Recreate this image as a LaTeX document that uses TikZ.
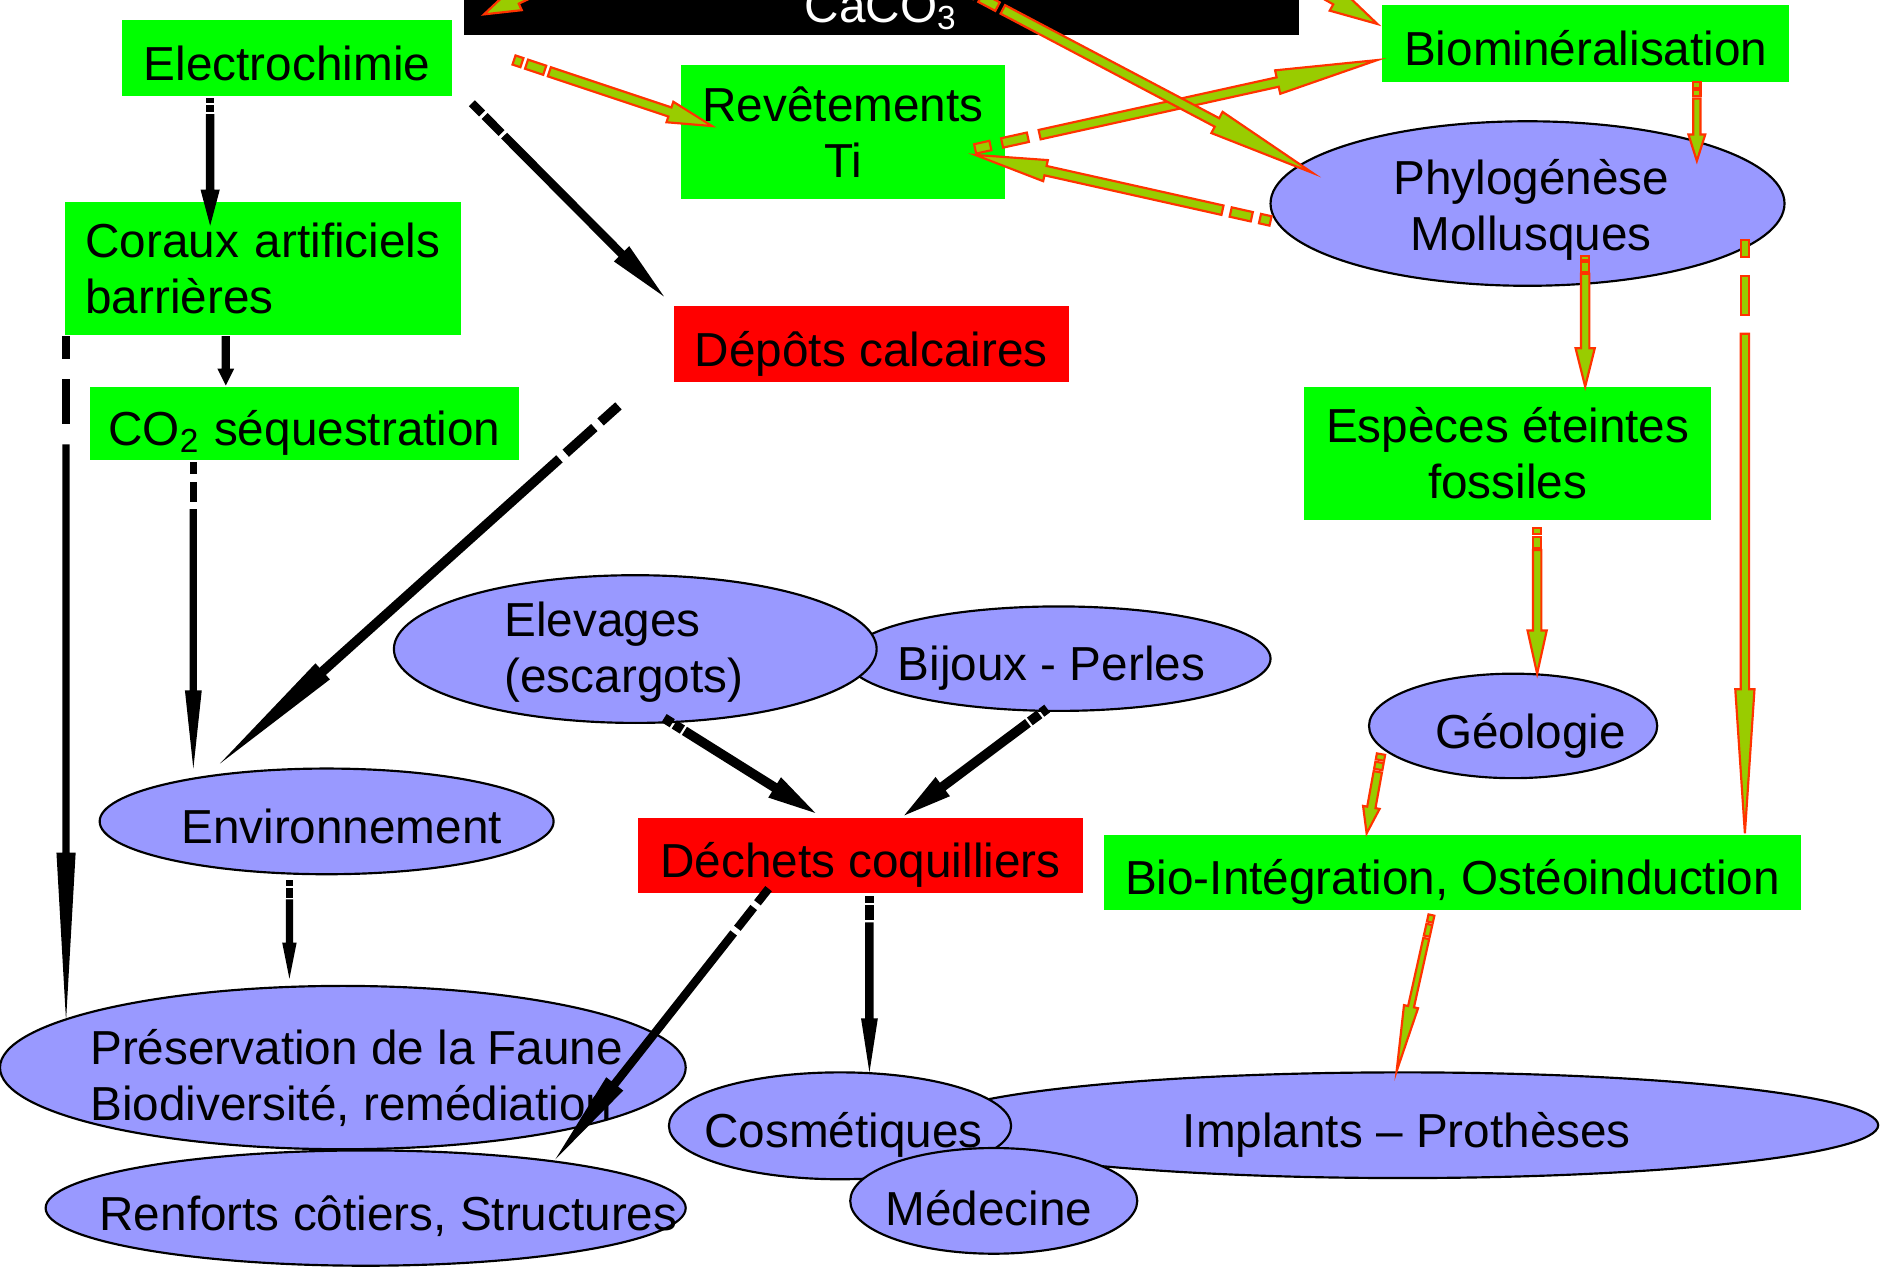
\documentclass[tikz,border=0pt]{standalone}
\usepackage{fontspec}
\setmainfont{Liberation Sans}
\usetikzlibrary{shapes.geometric,calc}
\definecolor{boxgreen}{HTML}{00FF00}
\definecolor{boxred}{HTML}{FF0000}
\definecolor{ellblue}{HTML}{9999FF}
\definecolor{arrfill}{HTML}{99CC00}
\definecolor{arrline}{HTML}{FF3300}
% #1 style, #2 start, #3 end, #4 half shaft width, #5 head length, #6 head half width,
% #7 first dash, #8 gap, #9 second dash (all in picture units)
\newcommand\fatarrow[9]{%
  \path let \p1=#2, \p2=#3 in \pgfextra{%
    \pgfmathsetmacro\faAtmp{atan2((\y2)-(\y1),(\x2)-(\x1))}%
    \pgfmathsetmacro\faLtmp{veclen((\x2)-(\x1),(\y2)-(\y1))*4}%
    \xdef\faA{\faAtmp}\xdef\faL{\faLtmp}\xdef\faX{\x1}\xdef\faY{\y1}};
  \begin{scope}[shift={(\faX,\faY)},rotate=\faA,x=0.25pt,y=0.25pt]
    \ifdim #7pt>0pt
      \draw[#1] (0,-#4) -- (#7,-#4) -- (#7,#4) -- (0,#4) -- cycle;
      \draw[#1] (#7+#8,-#4) -- (#7+#8+#9,-#4) -- (#7+#8+#9,#4) -- (#7+#8,#4) -- cycle;
      \pgfmathsetmacro\faS{#7+#8+#9+#8}%
    \else
      \def\faS{0}%
    \fi
    \draw[#1] (\faS,#4) -- (\faL-#5,#4) -- (\faL-#5,#6) -- (\faL,0)
      -- (\faL-#5,-#6) -- (\faL-#5,-#4) -- (\faS,-#4) -- cycle;
  \end{scope}}
\begin{document}
\begin{tikzpicture}[x=0.25pt,y=-0.25pt,
  every node/.style={font=\fontsize{9.93pt}{11.7pt}\selectfont, inner sep=0pt},
  sz/.style 2 args={minimum width=#1*0.25pt, minimum height=#2*0.25pt},
  tl/.style={text height=9.2pt, text depth=0pt},
  gbox/.style={rectangle, fill=boxgreen, align=center},
  rbox/.style={rectangle, fill=boxred, align=center},
  ell/.style={ellipse, draw=black, line width=0.45pt, fill=ellblue},
  lbl/.style={align=center},
  garr/.style={fill=arrfill, draw=arrline, line width=0.45pt},
  barr/.style={fill=black, draw=none}]
\useasboundingbox (0,0) rectangle (1568,1056);
\fill[white] (0,0) rectangle (1568,1056);

% ---- nodes
\node[fill=black, text=white, tl, sz={696}{58}] (caco) at (734,0) {CaCO\textsubscript{3}};
\node[gbox, tl, sz={274}{63}] (elec) at (239,48.5) {Electrochimie};
\node[gbox, sz={270}{112}] (rev) at (702,110) {Revêtements\\Ti};
\node[gbox, tl, sz={339}{64}] (bio) at (1320.5,36) {Biominéralisation};
\node[ell, sz={428}{137}, label={[lbl,xshift=3*0.25pt,yshift=-5*0.25pt]center:{Phylogénèse\\Mollusques}}] (phylo) at (1272,169.5) {};
\node[gbox, sz={330}{111}, text width=74pt, align=left] (coraux) at (219,223.5) {Coraux artificiels\\barrières};
\node[rbox, tl, sz={329}{63}] (depots) at (725.5,286.5) {Dépôts calcaires};
\node[gbox, tl, sz={357}{61}] (co2) at (253.5,352.5) {CO\textsubscript{2} séquestration};
\node[gbox, sz={339}{111}] (esp) at (1255.5,377.5) {Espèces éteintes\\fossiles};
\node[ell, sz={353}{87}, label={[lbl,tl,xshift=-6*0.25pt]center:{Bijoux - Perles}}] (bij) at (881.5,548.5) {};
\node[ell, sz={402}{123}, label={[lbl,align=left,xshift=-9.5*0.25pt,yshift=-2.5*0.25pt]center:{Elevages\\(escargots)}}] (elev) at (529,540.5) {};
\node[ell, sz={240}{87}, label={[lbl,tl,xshift=14.5*0.25pt]center:{Géologie}}] (geo) at (1260,604.5) {};
\node[ell, sz={378}{88}, label={[lbl,tl,xshift=12.5*0.25pt]center:{Environnement}}] (env) at (272,684) {};
\node[rbox, tl, sz={371}{63}] (dech) at (716.5,712.5) {Déchets coquilliers};
\node[gbox, tl, sz={581}{63}] (bioint) at (1209.5,726.5) {Bio-Intégration, Ostéoinduction};
\node[ell, sz={571}{136}, label={[lbl,align=left,xshift=11.5*0.25pt,yshift=-9*0.25pt]center:{Préservation de la Faune\\Biodiversité, remédiation}}] (pres) at (285.5,889) {};
\node[ell, sz={533}{96}, label={[lbl,tl,xshift=19*0.25pt]center:{Renforts côtiers, Structures}}] (renf) at (304.5,1006) {};
\node[ell, sz={792}{88}, label={[lbl,tl,xshift=3.5*0.25pt]center:{Implants – Prothèses}}] (impl) at (1168,937) {};
\node[ell, sz={285}{89}, label={[lbl,tl,xshift=3*0.25pt]center:{Cosmétiques}}] (cosm) at (699.5,937.5) {};
\node[ell, sz={239}{88}, label={[lbl,tl,xshift=-4*0.25pt,yshift=-2*0.25pt]center:{Médecine}}] (med) at (827.5,1000) {};

\coordinate (cA) at (520,-42);
\coordinate (tA) at (403,12);
\coordinate (cB) at (1024,-50);

% ---- black arrows
\fatarrow{barr}{($(elec.center)+(-64,33.5)$)}{($(coraux.center)+(-44,-35.5)$)}{3.5}{30}{8}{4}{1.5}{6}
\fatarrow{barr}{($(elec.center)+(154,37.5)$)}{($(depots.center)+(-172.5,-39.5)$)}{3.5}{50}{9}{12}{3}{20}
\fatarrow{barr}{($(coraux.center)+(-31,56.5)$)}{($(co2.center)+(-65.5,-31.5)$)}{3.5}{14}{7}{0}{0}{0}
\fatarrow{barr}{($(coraux.center)+(-164,56.5)$)}{($(pres.center)+(-230.5,-39)$)}{3}{140}{8}{19}{17}{37}
\fatarrow{barr}{($(co2.center)+(-92.5,32.5)$)}{($(env.center)+(-111,-44)$)}{3}{65}{7}{10}{6}{17}
\fatarrow{barr}{($(depots.center)+(-210.5,51.5)$)}{($(env.center)+(-89,-48)$)}{4}{115}{9}{20}{7}{32}
\fatarrow{barr}{($(env.center)+(-31,49)$)}{($(pres.center)+(-44.5,-74)$)}{3}{30}{6}{5}{1.5}{8}
\fatarrow{barr}{($(elev.center)+(24,57.5)$)}{($(dech.center)+(-37.5,-35.5)$)}{4}{40}{10}{8}{2}{8}
\fatarrow{barr}{($(bij.center)+(-9.5,41.5)$)}{($(dech.center)+(36.5,-33.5)$)}{4}{40}{10}{6}{2}{10}
\fatarrow{barr}{($(dech.center)+(7.5,33.5)$)}{($(cosm.center)+(24.5,-44.5)$)}{3.5}{45}{7}{6}{2}{12}
\fatarrow{barr}{($(dech.center)+(-76.5,27.5)$)}{($(renf.center)+(157.5,-40)$)}{3.5}{80}{9}{15}{5}{22}

% ---- green arrows
\fatarrow{garr}{(cA)}{(tA)}{4}{30}{10}{0}{0}{0}
\fatarrow{garr}{(cB)}{($(bio.center)+(-173.5,-16)$)}{4}{40}{10}{0}{0}{0}
\fatarrow{garr}{($(elec.center)+(189,1.5)$)}{($(rev.center)+(-109,-5)$)}{4}{37}{9}{7}{4}{16}
\fatarrow{garr}{($(rev.center)+(110,14)$)}{($(bio.center)+(-173.5,14)$)}{4}{85}{10}{13}{10}{22}
\fatarrow{garr}{($(phylo.center)+(-214,14.5)$)}{($(rev.center)+(110,19)$)}{4}{60}{9}{9}{7}{18}
\fatarrow{garr}{($(caco.center)+(71,-8)$)}{($(phylo.center)+(-179,-25.5)$)}{4}{90}{10}{8}{5}{16}
\fatarrow{garr}{($(bio.center)+(92.5,32)$)}{($(phylo.center)+(141,-35.5)$)}{3}{22}{7}{5}{2}{5}
\fatarrow{garr}{($(phylo.center)+(48,43.5)$)}{($(esp.center)+(64.5,-55.5)$)}{3.5}{32}{8}{4}{1.5}{8}
\fatarrow{garr}{($(phylo.center)+(181,30.5)$)}{($(bioint.center)+(243.5,-32.5)$)}{3.5}{120}{8}{14}{16}{32}
\fatarrow{garr}{($(esp.center)+(24.5,62.5)$)}{($(geo.center)+(20,-43.5)$)}{3.5}{36}{8}{5}{2}{9}
\fatarrow{garr}{($(geo.center)+(-110,23.5)$)}{($(bioint.center)+(-71.5,-32.5)$)}{3.5}{22}{7}{5}{2}{6}
\fatarrow{garr}{($(bioint.center)+(-17.5,35.5)$)}{($(impl.center)+(-5,-45)$)}{2.5}{55}{6}{6}{2}{10}
\end{tikzpicture}
\end{document}
